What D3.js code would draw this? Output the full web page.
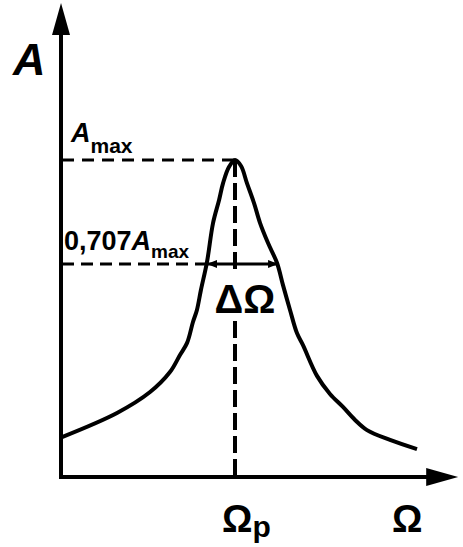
<!DOCTYPE html>
<html>
<head>
<meta charset="utf-8">
<script src="https://cdn.jsdelivr.net/npm/d3@7"></script>
<style>
  html, body { margin: 0; padding: 0; background: #fff; }
  svg { display: block; }
  text { font-family: "Liberation Sans", Arial, sans-serif; font-weight: bold; fill: #000; }
</style>
</head>
<body>
<svg id="chart" width="463" height="547"></svg>
<script>
// Frequency (Ω / Ωp) and amplitude (A / Amax)
const omega = [0.0, 0.318, 0.509, 0.624, 0.682, 0.723, 0.757, 0.780, 0.803, 0.838, 0.873, 0.908, 0.931, 0.965, 1.0,
               1.035, 1.069, 1.110, 1.145, 1.191, 1.243, 1.277, 1.318, 1.358, 1.393, 1.474, 1.549, 1.624, 1.694, 1.763, 1.896, 2.052];
const amplitude = [0.126, 0.202, 0.268, 0.331, 0.385, 0.423, 0.489, 0.527, 0.590, 0.678, 0.801, 0.874, 0.927, 0.978, 1.0,
                   0.981, 0.927, 0.864, 0.801, 0.738, 0.675, 0.606, 0.527, 0.454, 0.416, 0.319, 0.262, 0.221, 0.180, 0.148, 0.117, 0.088];
const resonance = 1.0;          // Ωp
const peakLevel = 1.0;          // Amax
const halfPowerLevel = 0.672;   // 0,707 Amax line (as drawn)
const bandEdges = [0.838, 1.249]; // ΔΩ arrow ends
const axisMax = { x: 2.29, y: 1.495 };

const svg = d3.select("#chart");
const x = d3.scaleLinear().domain([0, 1]).range([62, 235]);
const y = d3.scaleLinear().domain([0, 1]).range([477, 160]);

const x0 = x(0) - 1, y0 = y(0);
// Axes
svg.append("line").attr("x1", x0).attr("x2", x0).attr("y1", y0 + 2).attr("y2", y(axisMax.y) + 30)
  .attr("stroke", "#000").attr("stroke-width", 4);
svg.append("path")
  .attr("d", `M${x0 - 9},${y(axisMax.y) + 32} L${x0},${y(axisMax.y)} L${x0 + 9},${y(axisMax.y) + 32} Z`)
  .attr("fill", "#000");
svg.append("line").attr("x1", x0 - 2).attr("x2", x(axisMax.x) - 30).attr("y1", y0).attr("y2", y0)
  .attr("stroke", "#000").attr("stroke-width", 4);
svg.append("path")
  .attr("d", `M${x(axisMax.x) - 32},${y0 - 9} L${x(axisMax.x)},${y0} L${x(axisMax.x) - 32},${y0 + 9} Z`)
  .attr("fill", "#000");

// Dashed guides
svg.append("line").attr("x1", x(0)).attr("x2", x(resonance)).attr("y1", y(peakLevel)).attr("y2", y(peakLevel))
  .attr("stroke", "#000").attr("stroke-width", 3).attr("stroke-dasharray", "12,8");
svg.append("line").attr("x1", x(0)).attr("x2", x(bandEdges[0])).attr("y1", y(halfPowerLevel)).attr("y2", y(halfPowerLevel))
  .attr("stroke", "#000").attr("stroke-width", 3).attr("stroke-dasharray", "12,7");
svg.append("line").attr("x1", x(resonance)).attr("x2", x(resonance)).attr("y1", y(peakLevel)).attr("y2", y(0))
  .attr("stroke", "#000").attr("stroke-width", 4).attr("stroke-dasharray", "17,6");

// Curve
const pts = omega.map((w, i) => [w, amplitude[i]]);
svg.append("path").datum(pts)
  .attr("d", d3.line().x(d => x(d[0])).y(d => y(d[1])).curve(d3.curveCatmullRom.alpha(0.5)))
  .attr("fill", "none").attr("stroke", "#000").attr("stroke-width", 4).attr("stroke-linejoin", "round");

// Double arrow ΔΩ
const defs = svg.append("defs");
defs.append("marker").attr("id", "ah").attr("viewBox", "0 0 10 8").attr("refX", 10).attr("refY", 4)
  .attr("markerWidth", 10).attr("markerHeight", 8).attr("markerUnits", "userSpaceOnUse").attr("orient", "auto-start-reverse")
  .append("path").attr("d", "M0,0 L10,4 L0,8 Z").attr("fill", "#000");
svg.append("line").attr("x1", x(bandEdges[0])).attr("x2", x(bandEdges[1]))
  .attr("y1", y(halfPowerLevel)).attr("y2", y(halfPowerLevel))
  .attr("stroke", "#000").attr("stroke-width", 3)
  .attr("marker-start", "url(#ah)").attr("marker-end", "url(#ah)");

// ΔΩ label with white background
svg.append("rect").attr("x", 214).attr("y", 272).attr("width", 62).attr("height", 48).attr("fill", "#fff");
svg.append("text").attr("x", 245).attr("y", 313).attr("text-anchor", "middle").attr("font-size", 40).text("ΔΩ");

// Labels
svg.append("text").attr("x", 13).attr("y", 75).attr("font-size", 45).attr("font-style", "italic").text("A");

const amax = svg.append("text").attr("x", 71).attr("y", 142);
amax.append("tspan").attr("font-size", 27).attr("font-style", "italic").text("A");
amax.append("tspan").attr("font-size", 21).attr("dy", 11).text("max");

const lvl = svg.append("text").attr("x", 64).attr("y", 250);
lvl.append("tspan").attr("font-size", 27).text("0,707");
lvl.append("tspan").attr("font-size", 27).attr("font-style", "italic").text("A");
lvl.append("tspan").attr("font-size", 19).attr("dy", 8).text("max");

const wp = svg.append("text").attr("x", 222).attr("y", 532);
wp.append("tspan").attr("font-size", 38).text("Ω");
wp.append("tspan").attr("font-size", 30).attr("dy", 5).text("p");

svg.append("text").attr("x", 392).attr("y", 532).attr("font-size", 38).text("Ω");
</script>
</body>
</html>
